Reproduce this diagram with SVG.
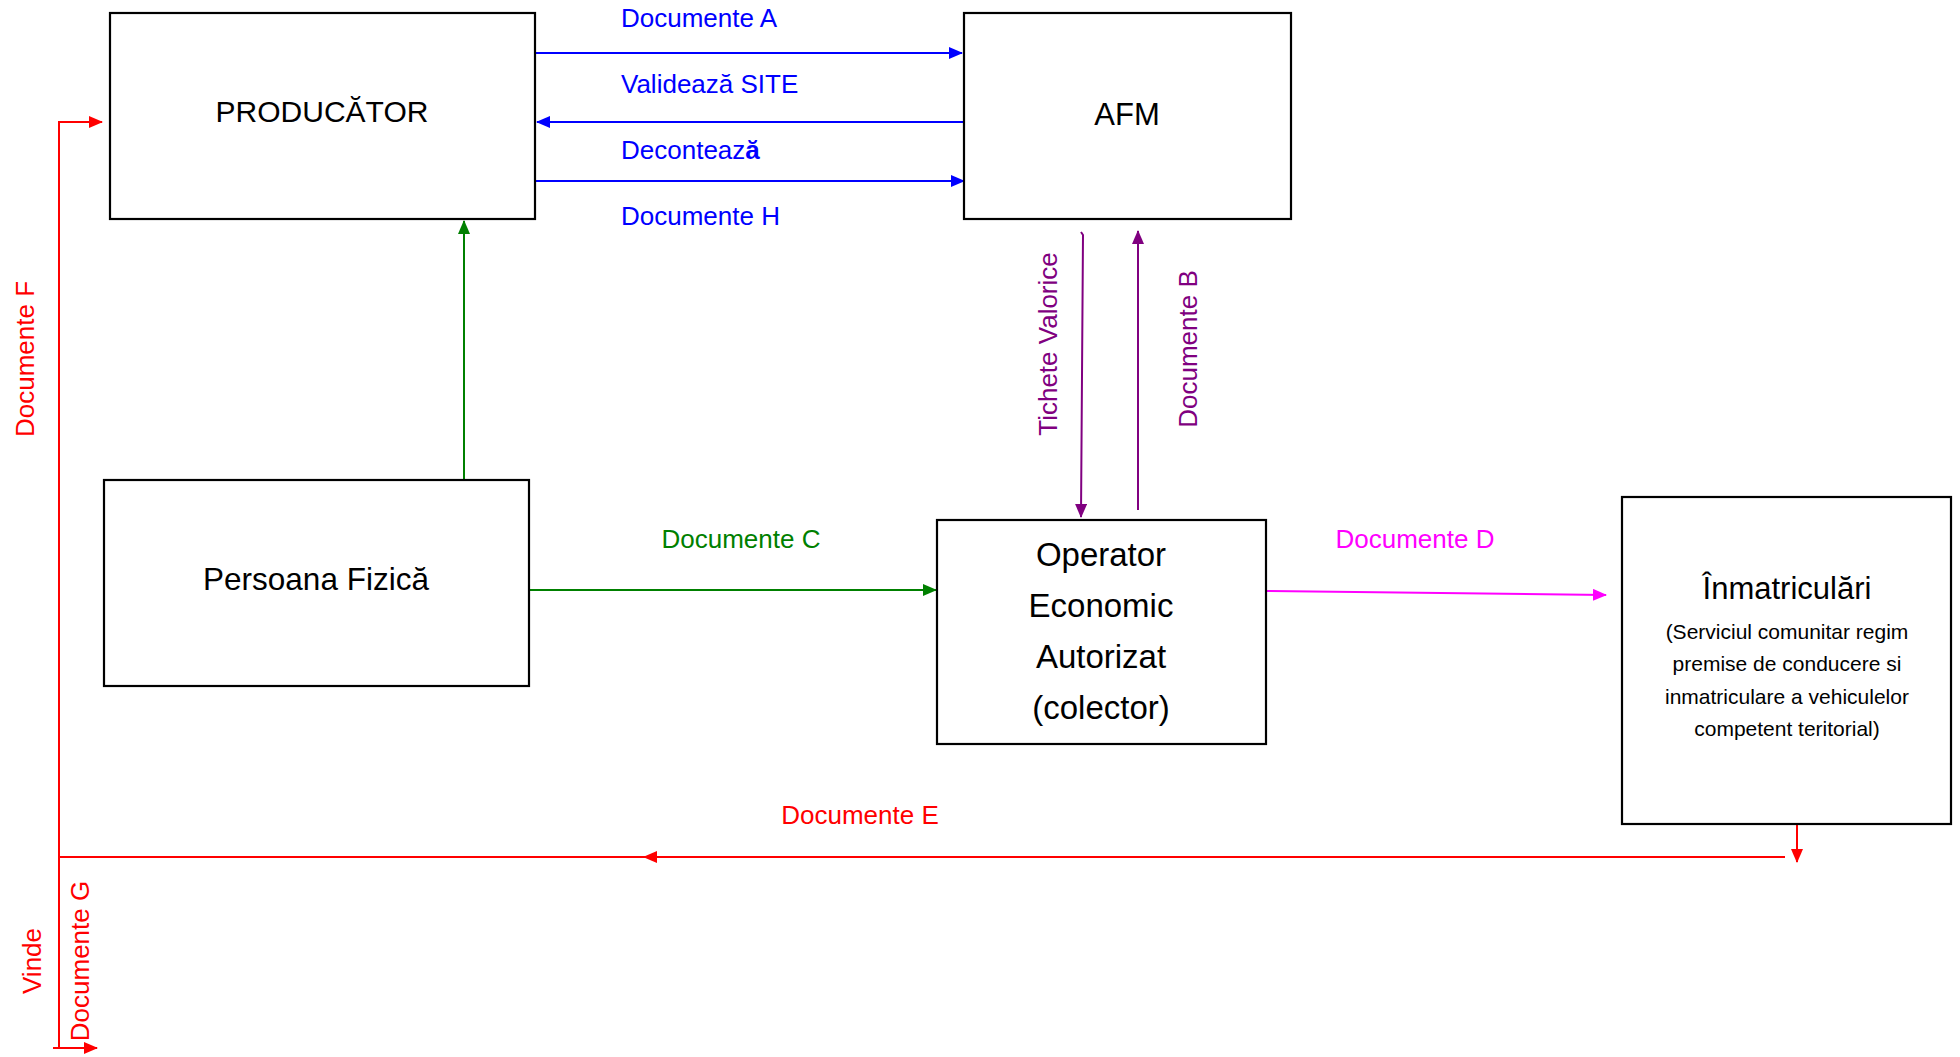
<svg xmlns="http://www.w3.org/2000/svg" width="1960" height="1057" viewBox="0 0 1960 1057">
<style>
.box{fill:#fff;stroke:#000;stroke-width:2.2}
.t{font-family:"Liberation Sans",Arial,sans-serif;fill:#000;text-anchor:middle}
.lbl{font-family:"Liberation Sans",Arial,sans-serif;font-size:26px}
.v{font-family:"Liberation Sans",Arial,sans-serif;font-size:26px;text-anchor:middle}
.c{fill:none;stroke-width:2}
</style>
<defs>
<marker id="ab" markerUnits="userSpaceOnUse" markerWidth="14" markerHeight="12" refX="13" refY="6" orient="auto"><path d="M0,0 L14,6 L0,12 z" fill="#0000FF"/></marker>
<marker id="ag" markerUnits="userSpaceOnUse" markerWidth="14" markerHeight="12" refX="13" refY="6" orient="auto"><path d="M0,0 L14,6 L0,12 z" fill="#008000"/></marker>
<marker id="ap" markerUnits="userSpaceOnUse" markerWidth="14" markerHeight="12" refX="13" refY="6" orient="auto"><path d="M0,0 L14,6 L0,12 z" fill="#800080"/></marker>
<marker id="am" markerUnits="userSpaceOnUse" markerWidth="14" markerHeight="12" refX="13" refY="6" orient="auto"><path d="M0,0 L14,6 L0,12 z" fill="#FF00FF"/></marker>
<marker id="ar" markerUnits="userSpaceOnUse" markerWidth="14" markerHeight="12" refX="13" refY="6" orient="auto"><path d="M0,0 L14,6 L0,12 z" fill="#FF0000"/></marker>
</defs>

<g id="connectors">
<line class="c" stroke="#0000FF" x1="530" y1="53" x2="962" y2="53" marker-end="url(#ab)"/>
<line class="c" stroke="#0000FF" x1="964" y1="122" x2="537" y2="122" marker-end="url(#ab)"/>
<line class="c" stroke="#0000FF" x1="535" y1="181" x2="964" y2="181" marker-end="url(#ab)"/>
<line class="c" stroke="#008000" x1="464" y1="479" x2="464" y2="221" marker-end="url(#ag)"/>
<line class="c" stroke="#008000" x1="525" y1="590" x2="936" y2="590" marker-end="url(#ag)"/>
<path class="c" stroke="#800080" d="M1081,232 L1083,235 L1081,517" marker-end="url(#ap)"/>
<line class="c" stroke="#800080" x1="1138" y1="510" x2="1138" y2="231" marker-end="url(#ap)"/>
<line class="c" stroke="#FF00FF" x1="1266" y1="591" x2="1606" y2="595" marker-end="url(#am)"/>
<line class="c" stroke="#FF0000" x1="1797" y1="824" x2="1797" y2="862" marker-end="url(#ar)"/>
<line class="c" stroke="#FF0000" x1="1785" y1="857" x2="644" y2="857" marker-end="url(#ar)"/>
<line class="c" stroke="#FF0000" x1="650" y1="857" x2="59" y2="857"/>
<path class="c" stroke="#FF0000" d="M59,1048 L59,122 L102,122" marker-end="url(#ar)"/>
<line class="c" stroke="#FF0000" x1="53" y1="1048" x2="97" y2="1048" marker-end="url(#ar)"/>

<text class="lbl" fill="#0000FF" x="621" y="27">Documente A</text>
<text class="lbl" fill="#0000FF" x="621" y="93">Validează SITE</text>
<text class="lbl" fill="#0000FF" x="621" y="159">Deconteaz<tspan font-weight="bold">ă</tspan></text>
<text class="lbl" fill="#0000FF" x="621" y="225">Documente H</text>
<text class="lbl" fill="#008000" x="741" y="548" text-anchor="middle">Documente C</text>
<text class="lbl" fill="#FF00FF" x="1415" y="548" text-anchor="middle">Documente D</text>
<text class="lbl" fill="#FF0000" x="860" y="824" text-anchor="middle">Documente E</text>
<text class="v" fill="#800080" transform="translate(1057,344) rotate(-90)">Tichete Valorice</text>
<text class="v" fill="#800080" transform="translate(1197,349) rotate(-90)">Documente B</text>
<text class="v" fill="#FF0000" transform="translate(34,359) rotate(-90)">Documente F</text>
<text class="v" fill="#FF0000" transform="translate(41,961) rotate(-90)">Vinde</text>
<text class="v" fill="#FF0000" transform="translate(89,961) rotate(-90)">Documente G</text>
</g>

<g id="producator">
<rect class="box" x="110" y="13" width="425" height="206"/>
<text class="t" x="322" y="122" font-size="30">PRODUCĂTOR</text>
</g>
<g id="afm">
<rect class="box" x="964" y="13" width="327" height="206"/>
<text class="t" x="1127" y="125" font-size="31">AFM</text>
</g>
<g id="persoana">
<rect class="box" x="104" y="480" width="425" height="206"/>
<text class="t" x="316" y="590" font-size="31.5">Persoana Fizică</text>
</g>
<g id="operator">
<rect class="box" x="937" y="520" width="329" height="224"/>
<text class="t" x="1101" y="566" font-size="33">Operator</text>
<text class="t" x="1101" y="617" font-size="33">Economic</text>
<text class="t" x="1101" y="668" font-size="33">Autorizat</text>
<text class="t" x="1101" y="719" font-size="33">(colector)</text>
</g>
<g id="inmatriculari">
<rect class="box" x="1622" y="497" width="329" height="327"/>
<text class="t" x="1787" y="599" font-size="31">Înmatriculări</text>
<text class="t" x="1787" y="639" font-size="21">(Serviciul comunitar regim</text>
<text class="t" x="1787" y="671" font-size="21">premise de conducere si</text>
<text class="t" x="1787" y="704" font-size="21">inmatriculare a vehiculelor</text>
<text class="t" x="1787" y="736" font-size="21">competent teritorial)</text>
</g>
</svg>
